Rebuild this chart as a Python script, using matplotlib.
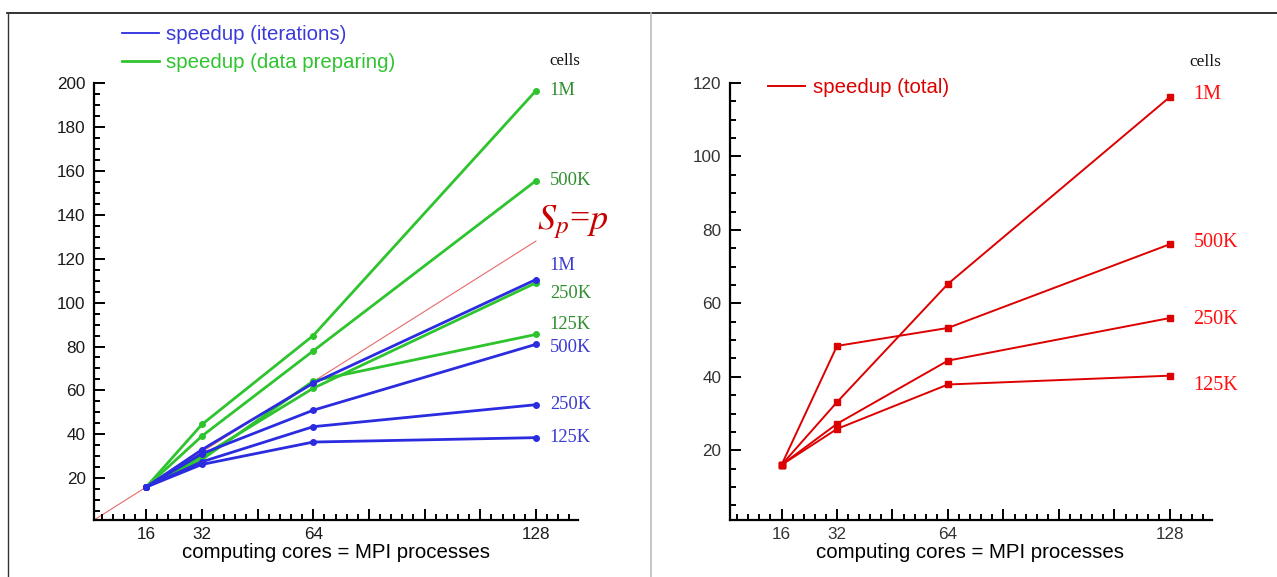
import numpy as np
import matplotlib.pyplot as plt
from matplotlib.lines import Line2D
from matplotlib.ticker import MultipleLocator, FixedLocator, FixedFormatter

plt.rcParams['font.family'] = ['Liberation Sans', 'DejaVu Sans']
plt.rcParams['mathtext.fontset'] = 'stix'

cores = [16, 32, 64, 128]
cells = ['1M', '500K', '250K', '125K']

# speedup of the iterations (blue)
iter_speedup = {
    '1M':   [16, 33.0, 63.3, 110.5],
    '500K': [16, 31.2, 51.0, 81.0],
    '250K': [16, 27.5, 43.5, 53.5],
    '125K': [16, 26.3, 36.5, 38.5],
}
# speedup of the data preparing (green)
prep_speedup = {
    '1M':   [16, 44.5, 85.0, 196.5],
    '500K': [16, 39.2, 78.0, 155.5],
    '250K': [16, 30.0, 61.0, 109.0],
    '125K': [16, 28.5, 64.3, 85.5],
}
# total speedup (red)
total_speedup = {
    '1M':   [16, 33.1, 65.3, 116.2],
    '500K': [16, 48.4, 53.3, 76.1],
    '250K': [16, 27.2, 44.4, 56.0],
    '125K': [16, 25.8, 37.9, 40.3],
}
ideal = [1, 128]

BLUE = '#2b2be0'
GREEN = '#2ec42e'
RED = '#dd0000'

fig = plt.figure(figsize=(12.77, 5.77), dpi=100)
axL = fig.add_axes([94/1277, 1-520/577, 483.7/1277, 437/577])
axR = fig.add_axes([729.5/1277, 1-520/577, 482/1277, 437/577])


def style_axis(ax, ytop, tickcolor):
    for s in ['top', 'right']:
        ax.spines[s].set_visible(False)
    for s in ['left', 'bottom']:
        ax.spines[s].set_linewidth(1.6)
    ax.set_xlim(1, 140)
    ax.set_ylim(1, ytop)
    ax.xaxis.set_major_locator(FixedLocator([16, 32, 48, 64, 80, 96, 112, 128]))
    ax.xaxis.set_major_formatter(FixedFormatter(['16', '32', '', '64', '', '', '', '128']))
    ax.xaxis.set_minor_locator(MultipleLocator(3.2))
    ax.yaxis.set_major_locator(MultipleLocator(20))
    ax.yaxis.set_minor_locator(MultipleLocator(5))
    ax.tick_params(which='both', direction='in', width=1.4, labelsize=12.3,
                   labelcolor=tickcolor)
    ax.tick_params(which='major', length=8)
    ax.tick_params(which='minor', length=4)
    ax.tick_params(axis='y', pad=6)
    ax.tick_params(axis='x', pad=5)
    ax.set_xlabel('computing cores = MPI processes', fontsize=14.7, labelpad=1)


# ---- left panel ----
axL.plot(ideal, ideal, color='#e86a6a', lw=0.8, zorder=1)
blue_lines = []
for c in cells:
    ln, = axL.plot(cores, iter_speedup[c], color=BLUE, lw=2, marker='o', ms=4, zorder=3)
    blue_lines.append(ln)
green_lines = []
for c in cells:
    ln, = axL.plot(cores, prep_speedup[c], color=GREEN, lw=2, marker='o', ms=4, zorder=2)
    green_lines.append(ln)
style_axis(axL, 200, '#1a1a1a')

# label offsets (points) from the last point of each series
left_offsets = [
    (prep_speedup, '1M', '#2f8f2f', 0),
    (prep_speedup, '500K', '#2f8f2f', 0),
    (iter_speedup, '1M', '#3a3ad0', 10),
    (prep_speedup, '250K', '#2f8f2f', -8),
    (prep_speedup, '125K', '#2f8f2f', 7),
    (iter_speedup, '500K', '#3a3ad0', -2),
    (iter_speedup, '250K', '#3a3ad0', 0),
    (iter_speedup, '125K', '#3a3ad0', 0),
]
for data, c, col, dy in left_offsets:
    axL.annotate(c, (cores[-1], data[c][-1]), xytext=(10, dy), textcoords='offset points',
                 ha='left', va='center', color=col, fontsize=13.3,
                 family='Liberation Serif', annotation_clip=False)
axL.text(0.941, 1.05, 'cells', transform=axL.transAxes, fontsize=12.2,
         family='Liberation Serif', ha='left', va='center', color='#111111')
axL.text(0.915, 0.682, r'$S_p$=$p$', transform=axL.transAxes, fontsize=26,
         family='Liberation Serif', color='#c80000', ha='left', va='center')
legL = fig.legend([blue_lines[0], green_lines[0]],
                  ['speedup (iterations)', 'speedup (data preparing)'],
                  loc='upper left', bbox_to_anchor=(122/1277, 1-25/577),
                  frameon=False, fontsize=14.7, handlelength=1.8, handletextpad=0.35,
                  labelspacing=0.45, borderpad=0, borderaxespad=0)
for h in legL.legend_handles:
    h.set_marker('')
legL.legend_handles[0].set_linewidth(1.3)
legL.get_texts()[0].set_color('#3a3ad8')
legL.get_texts()[1].set_color('#2ec42e')

# ---- right panel ----
red_lines = []
for c in cells:
    ln, = axR.plot(cores, total_speedup[c], color=RED, lw=1.4, marker='s', ms=4, zorder=2)
    red_lines.append(ln)
style_axis(axR, 120, '#333333')

right_offsets = {'1M': 2, '500K': 1, '250K': -1, '125K': -7}
for c in cells:
    axR.annotate(c, (cores[-1], total_speedup[c][-1]), xytext=(17, right_offsets[c]),
                 textcoords='offset points', ha='left', va='center', color='#ff1010',
                 fontsize=14.5, family='Liberation Serif', annotation_clip=False)
axR.text(0.955, 1.048, 'cells', transform=axR.transAxes, fontsize=12.5,
         family='Liberation Serif', ha='left', va='center', color='#111111')
legR = fig.legend([red_lines[0]], ['speedup (total)'],
                  loc='upper left', bbox_to_anchor=(768/1277, 1-78/577),
                  frameon=False, fontsize=14.7, handlelength=1.8, handletextpad=0.4,
                  borderpad=0, borderaxespad=0)
for h in legR.legend_handles:
    h.set_marker('')
legR.get_texts()[0].set_color(RED)

# frame lines of the original page
fig.add_artist(Line2D([7/1277, 1], [1-13/577, 1-13/577], color='#111111', lw=1.2))
fig.add_artist(Line2D([8/1277, 8/1277], [0, 1-13/577], color='#333333', lw=1.0))
fig.add_artist(Line2D([651/1277, 651/1277], [0, 1-13/577], color='#bbbbbb', lw=1.2))

fig.savefig('out.png', dpi=100)
